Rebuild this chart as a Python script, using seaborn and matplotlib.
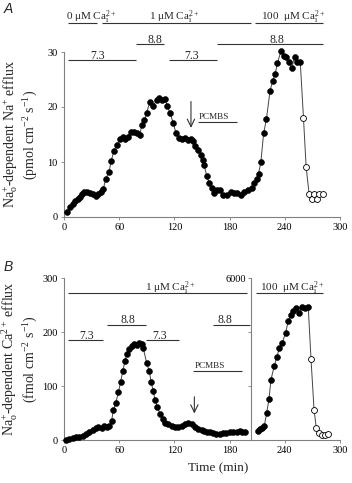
import matplotlib
matplotlib.use("Agg")
import matplotlib.pyplot as plt
import seaborn as sns
import pandas as pd

# ---------------- Data ----------------
# Panel A: Na+-dependent Na+ efflux (pmol cm-2 s-1)
a_time_filled = [3.6, 6.5, 9.4, 12.3, 14.9, 17.4, 19.5, 21.7, 24.6, 28.3, 31.9, 34.8, 37.3,
                 39.9, 42.8, 45.3, 48.9, 51.1, 54.3, 57.2, 60.8, 63.8, 66.3, 69.2, 72.5, 76.1,
                 79.7, 82.6, 84.4, 87.3, 89.9, 93.5, 97.1, 100.7, 103.6, 106.2, 109.8, 112.3,
                 115.2, 118.8, 121.7, 125.4, 128.5, 131.5, 134.5, 137.5, 140.0, 142.4, 146.0,
                 148.6, 150.7, 152.2, 155.1, 158.0, 160.5, 163.4, 165.9, 169.6, 173.2, 177.5,
                 181.2, 185.1, 188.4, 192.4, 196.0, 200.4, 204.0, 206.8, 209.3, 211.5, 214.0,
                 217.0, 220.0, 224.0, 227.0, 229.5, 232.0, 235.7, 238.7, 241.7, 244.6, 247.6,
                 250.6, 253.6, 256.8]
a_na_filled = [1.0, 1.9, 2.4, 2.9, 3.3, 3.7, 4.1, 4.6, 4.5, 4.4, 4.1, 3.9, 4.1,
               4.5, 5.1, 7.0, 8.1, 10.1, 12.0, 13.1, 14.1, 14.6, 14.1, 14.6, 15.5, 15.5,
               15.2, 15.0, 16.7, 17.6, 19.0, 21.0, 20.2, 21.3, 21.7, 21.3, 21.5, 20.2,
               18.9, 17.1, 15.2, 14.4, 14.2, 14.3, 14.0, 14.1, 13.9, 13.0, 12.2,
               11.3, 10.4, 9.5, 7.5, 6.1, 5.2, 4.3, 4.9, 4.9, 4.0, 4.0,
               4.6, 4.4, 4.3, 4.0, 4.6, 4.9, 5.2, 6.1, 6.9, 7.9, 10.0,
               15.2, 17.8, 23.0, 24.8, 26.0, 28.0, 30.1, 29.2, 29.1, 28.1, 27.1,
               29.1, 28.2, 28.2]
a_time_open = [260.3, 263.2, 266.4, 269.3, 272.2, 275.1, 277.7, 281.3]
a_na_open = [18.0, 9.1, 4.2, 3.2, 4.2, 3.2, 4.2, 4.2]

# Panel B: Na+-dependent Ca2+ efflux (fmol cm-2 s-1), 1 uM Ca (left scale)
b_time_left = [2.2, 5.8, 9.4, 13.0, 16.7, 20.3, 23.9, 27.5, 31.2, 34.8, 37.3, 41.0, 43.8,
               46.4, 49.0, 51.8, 53.6, 56.2, 59.1, 61.6, 63.8, 66.3, 68.1, 71.0, 73.6, 76.5,
               79.0, 81.9, 84.4, 86.2, 89.9, 92.8, 94.6, 97.1, 98.9, 101.4, 104.3, 107.2,
               109.8, 113.4, 117.0, 120.7, 124.3, 127.9, 131.5, 135.1, 138.8, 142.4, 146.0,
               149.6, 152.5, 155.5, 158.7, 162.0, 165.5, 169.6, 173.0, 176.5, 180.4, 184.0,
               187.5, 191.3, 194.0, 196.7]
b_ca_left = [0, 1, 3, 5, 6, 8, 11, 14, 18, 22, 25, 23, 26,
             23.5, 26, 36, 55, 68, 88, 108, 127, 146, 159, 168, 174, 177,
             176, 179, 178, 170, 142, 127, 108, 90, 74, 61, 49, 38,
             32, 29, 26, 25, 23.5, 26, 30, 32, 30, 25, 20,
             18, 16, 15, 14, 13, 12, 12, 12.5, 13, 14, 14.5,
             15.5, 16, 15.5, 15]
# 100 uM Ca (right scale)
b_time_right_filled = [210.5, 213.0, 215.5, 217.7, 220.2, 222.8, 224.9, 228.6, 231.5, 234.0,
                       237.3, 240.9, 243.8, 246.3, 249.2, 251.8, 255.4, 258.3, 261.9, 265.5]
b_ca_right_filled = [345, 395, 457, 519, 988, 1506, 2222, 2753, 3086, 3395,
                     3605, 3975, 4407, 4630, 4778, 4876, 4691, 4913, 4876, 4913]
b_time_right_open = [268.5, 271.8, 274.3, 277.0, 280.0, 283.2, 286.5]
b_ca_right_open = [2990, 1120, 430, 250, 190, 200, 210]

x_ticks = [0, 60, 120, 180, 240, 300]
a_yticks = [0, 10, 20, 30]
b_yticks = [0, 100, 200, 300]
b_right_ticks = [0, 2000, 4000, 6000]
b_right_ticklabels = ["", "", "", "6000"]

# ---------------- Style ----------------
sns.set_theme(style="ticks")
plt.rcParams["font.family"] = ["Liberation Serif", "DejaVu Serif"]
plt.rcParams["mathtext.fontset"] = "custom"
plt.rcParams["mathtext.rm"] = "Liberation Serif"
plt.rcParams["mathtext.it"] = "Liberation Serif:italic"
plt.rcParams["mathtext.bf"] = "Liberation Serif:bold"

W, H = 352, 483
fig = plt.figure(figsize=(W / 100, H / 100), dpi=100)
axA = fig.add_axes([64 / W, 1 - 217 / H, 276 / W, 165 / H])
axB = fig.add_axes([64 / W, 1 - 440 / H, 276 / W, 162 / H])

SPINE = "#808080"
LINEC = "#444444"
ANN = "#333333"
MS = 18


def style_axis(ax):
    for s in ["top", "right"]:
        ax.spines[s].set_visible(False)
    for s in ["left", "bottom"]:
        ax.spines[s].set_color(SPINE)
        ax.spines[s].set_linewidth(0.8)
    ax.tick_params(axis="both", labelsize=7.4, length=2.5, width=0.6,
                   color=SPINE, labelcolor="black", pad=2)


def draw_series(ax, tf, vf, to, vo):
    df = pd.DataFrame({"t": list(tf) + list(to), "v": list(vf) + list(vo)})
    sns.lineplot(data=df, x="t", y="v", ax=ax, color=LINEC, lw=0.7,
                 sort=False, estimator=None, zorder=2)
    sns.scatterplot(x=list(tf), y=list(vf), ax=ax, color="black", s=MS,
                    edgecolor="black", linewidth=0.4, zorder=3, clip_on=False)
    if len(to):
        sns.scatterplot(x=list(to), y=list(vo), ax=ax, color="white", s=MS,
                        edgecolor="black", linewidth=0.6, zorder=3, clip_on=False)


def hbar(ax, x0, x1, y, lw=0.8):
    ax.plot([x0, x1], [y, y], color=ANN, lw=lw, clip_on=False, solid_capstyle="butt")


def label(ax, x, y, s, size=8.5, ha="center"):
    ax.text(x, y, s, fontsize=size, ha=ha, va="baseline", clip_on=False)


ca = lambda n: n + r" μM Ca$^{2+}_{\mathrm{i}}$"

# ---------------- Panel A ----------------
draw_series(axA, a_time_filled, a_na_filled, a_time_open, a_na_open)
style_axis(axA)
axA.set_xlim(0, 300)
axA.set_ylim(0, 30)
axA.set_xticks(x_ticks)
axA.set_yticks(a_yticks)
axA.set_xlabel("")
axA.set_ylabel(r"Na$^{+}_{\mathrm{o}}$-dependent Na$^{+}$ efflux" + "\n" +
               r"(pmol cm$^{-2}$ s$^{-1}$)", fontsize=10, linespacing=1.1)
axA.yaxis.set_label_coords(-0.088, 0.5)

# Ca bars
hbar(axA, 4.3, 36, 35.3)
hbar(axA, 41, 203, 35.3)
hbar(axA, 208, 282, 35.3)
label(axA, 29.5, 35.75, ca("0"), size=8)
label(axA, 119.5, 35.75, ca("1"), size=8)
label(axA, 249, 35.75, ca("100 "), size=8)
# pH bars
hbar(axA, 4.3, 78, 28.5)
hbar(axA, 78, 109, 31.4)
hbar(axA, 114, 166, 28.5)
hbar(axA, 166, 282, 31.4)
label(axA, 36.4, 28.7, "7.3")
label(axA, 99, 31.6, "8.8")
label(axA, 139, 28.7, "7.3")
label(axA, 231, 31.6, "8.8")
# PCMBS
axA.annotate("", xy=(138, 16.2), xytext=(138, 21.0),
             arrowprops=dict(arrowstyle="->,head_length=0.45,head_width=0.22",
                             color=ANN, lw=0.8, shrinkA=0, shrinkB=0))
hbar(axA, 146, 188, 17.2)
label(axA, 146, 17.8, "PCMBS", size=6.6, ha="left")

# ---------------- Panel B ----------------
draw_series(axB, b_time_left, b_ca_left, [], [])
style_axis(axB)
axB.set_xlim(0, 300)
axB.set_ylim(0, 300)
axB.set_xticks(x_ticks)
axB.set_yticks(b_yticks)
axB.set_ylabel(r"Na$^{+}_{\mathrm{o}}$-dependent Ca$^{2+}$ efflux" + "\n" +
               r"(fmol cm$^{-2}$ s$^{-1}$)", fontsize=10, linespacing=1.1)
axB.yaxis.set_label_coords(-0.088, 0.5)
axB.set_xlabel("Time (min)", fontsize=9.5)
axB.xaxis.set_label_coords(0.56, -0.135)

ax2 = axB.twinx()
draw_series(ax2, b_time_right_filled, b_ca_right_filled,
            b_time_right_open, b_ca_right_open)
ax2.set_ylim(0, 6000)
ax2.set_xlim(0, 300)
for s in ["top", "right", "bottom"]:
    ax2.spines[s].set_visible(False)
ax2.spines["left"].set_visible(True)
ax2.spines["left"].set_position(("data", 203))
ax2.spines["left"].set_color(SPINE)
ax2.spines["left"].set_linewidth(0.8)
ax2.yaxis.set_ticks_position("left")
ax2.set_yticks(b_right_ticks)
ax2.set_yticklabels(b_right_ticklabels)
ax2.set_ylabel("")
ax2.tick_params(axis="y", labelsize=7.4, length=2.5, width=0.6,
                color=SPINE, labelcolor="black", pad=1)

# Ca bars
hbar(axB, 4.7, 198.6, 271.6)
hbar(axB, 208.7, 281.9, 271.6)
label(axB, 115, 275, ca("1"), size=8)
label(axB, 247.5, 275, ca("100 "), size=8)
# pH bars
hbar(axB, 4.7, 42, 185)
hbar(axB, 46.4, 89.1, 213)
hbar(axB, 89.1, 125.4, 185)
hbar(axB, 161.6, 202, 213)
label(axB, 24.6, 187, "7.3")
label(axB, 69.2, 216, "8.8")
label(axB, 104.3, 187, "7.3")
label(axB, 175, 216, "8.8")
# PCMBS
axB.annotate("", xy=(141.7, 49), xytext=(141.7, 80),
             arrowprops=dict(arrowstyle="->,head_length=0.45,head_width=0.22",
                             color=ANN, lw=0.8, shrinkA=0, shrinkB=0))
hbar(axB, 140.6, 193, 127.8)
label(axB, 158.7, 132.7, "PCMBS", size=6.6)

# Panel letters
fig.text(4 / W, 1 - 2 / H, "A", fontsize=10, style="italic", va="top", ha="left",
         family=["Liberation Sans", "DejaVu Sans"])
fig.text(4 / W, 1 - 260 / H, "B", fontsize=10, style="italic", va="top", ha="left",
         family=["Liberation Sans", "DejaVu Sans"])

fig.savefig("out.png", dpi=100)
